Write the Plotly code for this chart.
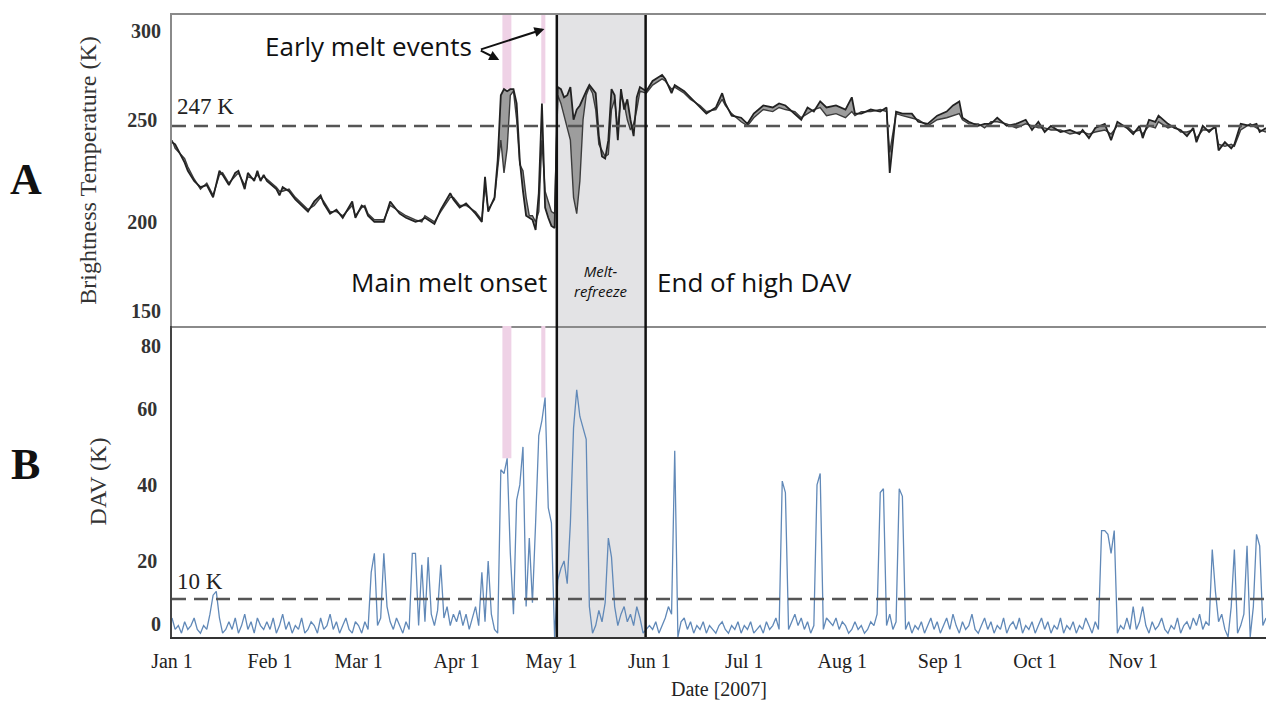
import pandas as pd
import plotly.graph_objects as go
from plotly.subplots import make_subplots

YEAR_START = "2007-01-01"

# ---- Brightness temperature (K): day offset from Jan 1, upper / lower series ----
tb_days = [
    0, 1, 4, 5, 7, 9, 11, 13, 15, 16, 18, 20, 21, 23, 24, 26, 27, 28, 29, 30,
    33, 34, 35, 37, 39, 43, 45, 47, 48, 50, 52, 54, 57, 58,
    60, 61, 62, 64, 67, 69, 72, 74, 77, 79, 80, 83, 85, 88, 89,
    91, 93, 96, 98, 99, 100, 102, 103,
    104, 105, 106, 107, 108, 109, 110, 111, 112, 113,
    114, 115, 116, 117, 118, 119, 120, 121, 122, 123,
    124, 125, 126, 127, 128, 129, 130, 131, 132, 133,
    134, 135, 136, 137, 138, 139, 140, 141, 142, 143,
    144, 145, 146, 147, 148, 150,
    152, 155, 156, 158, 159, 162, 164, 167, 169, 172,
    174, 175, 177, 180, 182, 184, 187, 190, 192, 194,
    197, 199, 201, 203, 205, 207, 210, 213, 215, 216,
    218, 221, 224, 226, 227, 229, 231, 234, 236, 239,
    242, 245, 247, 249, 250, 252, 255, 257, 259, 261,
    264, 267, 270, 272, 274, 276, 278, 281, 284, 287,
    288, 290, 292, 295, 297, 299, 302, 304, 306, 307,
    309, 311, 312, 315, 317, 319, 321, 323, 324, 326,
    328, 330, 331, 333, 335, 336, 338, 341, 343, 344,
    346,
]
tb_upper = [
    239, 238, 229, 225, 220, 217, 218, 212, 225, 223, 218, 224, 225, 216, 224, 220, 225, 220, 223, 220,
    216, 213, 217, 215, 211, 205, 210, 213, 209, 204, 206, 202, 210, 202,
    208, 207, 203, 200, 200, 210, 204, 202, 200, 201, 202, 199, 206, 214, 211,
    207, 209, 204, 200, 222, 205, 212, 230,
    262, 265, 264, 265, 265, 258, 230, 215, 203, 202,
    201, 196, 214, 258, 207, 202, 198, 197, 266, 265,
    261, 262, 266, 250, 255, 257, 261, 264, 267, 265,
    263, 242, 232, 231, 240, 265, 262, 240, 265, 255,
    260, 250, 242, 261, 266, 264,
    269, 272, 270, 263, 267, 264, 261, 256, 253, 256,
    263, 258, 252, 251, 248, 253, 257, 256, 258, 257,
    253, 250, 256, 254, 259, 256, 257, 255, 261, 253,
    253, 255, 254, 256, 224, 254, 253, 253, 249, 248,
    252, 254, 257, 259, 251, 249, 247, 248, 248, 251,
    247, 248, 250, 245, 249, 244, 247, 244, 245, 243,
    245, 241, 246, 248, 240, 249, 246, 243, 247, 241,
    250, 249, 252, 248, 246, 245, 242, 246, 239, 247,
    244, 247, 235, 239, 236, 238, 248, 247, 248, 244,
    246,
]
tb_lower = [
    240, 236, 231, 227, 221, 216, 219, 213, 223, 224, 219, 222, 224, 218, 222, 221, 223, 221, 222, 221,
    217, 215, 215, 216, 212, 206, 208, 212, 210, 205, 205, 203, 208, 203,
    207, 208, 204, 201, 201, 208, 205, 203, 201, 200, 203, 200, 205, 212, 212,
    208, 208, 205, 201, 218, 206, 211, 226,
    240, 224, 236, 262, 264, 250, 228, 225, 212, 203,
    203, 200, 205, 240, 215, 210, 205, 204, 262, 258,
    252, 245, 240, 212, 204, 220, 250, 262, 266, 263,
    255, 238, 235, 232, 233, 255, 260, 245, 262, 258,
    250, 245, 248, 255, 264, 263,
    267, 270, 269, 265, 266, 263, 260, 257, 254, 255,
    260, 257, 253, 249, 247, 251, 255, 254, 256, 255,
    254, 251, 253, 255, 256, 252, 253, 251, 254, 252,
    254, 254, 255, 254, 234, 253, 252, 251, 250, 247,
    250, 251, 252, 253, 250, 248, 248, 246, 249, 249,
    248, 246, 248, 247, 246, 246, 245, 245, 243, 244,
    244, 243, 244, 245, 243, 247, 247, 244, 245, 243,
    247, 246, 249, 246, 247, 244, 244, 245, 241, 245,
    245, 246, 238, 237, 238, 237, 245, 248, 246, 245,
    244,
]

# ---- DAV (K), daily values from Jan 1 ----
dav_jan = [5, 2, 3, 1, 4, 2, 3, 5, 2, 1, 3, 2, 6, 11, 12, 5, 1, 2, 4, 2, 5, 1, 3, 6, 2, 4, 1, 5, 3, 2, 4]
dav_feb = [2, 5, 1, 3, 6, 2, 4, 1, 3, 2, 5, 1, 2, 4, 3, 1, 5, 2, 3, 6, 2, 4, 1, 3, 5, 2, 1, 4]
dav_mar = [3, 1, 4, 2, 17, 22, 3, 5, 22, 8, 4, 2, 5, 3, 1, 4, 2, 22, 22, 3, 19, 4, 21, 6, 3, 7, 19, 5, 8, 3, 6]
dav_apr = [4, 7, 3, 6, 2, 5, 8, 3, 17, 4, 20, 6, 2, 1, 44, 43, 47, 22, 6, 36, 40, 50, 8, 26, 9, 30, 53, 57, 63, 34]
dav_may = [30, 0, 15, 18, 20, 14, 30, 55, 65, 58, 55, 52, 8, 1, 3, 7, 4, 9, 26, 21, 8, 3, 6, 8, 4, 6, 3, 8, 5, 1, 2]
dav_jun = [3, 2, 4, 1, 3, 5, 8, 6, 49, 0, 4, 5, 2, 4, 1, 3, 2, 4, 1, 3, 2, 1, 3, 4, 2, 1, 3, 2, 4, 1]
dav_jul = [3, 2, 4, 1, 2, 3, 1, 4, 2, 3, 5, 2, 41, 38, 2, 4, 6, 3, 5, 2, 4, 1, 3, 40, 43, 2, 5, 4, 3, 5, 2]
dav_aug = [4, 3, 1, 2, 4, 2, 3, 1, 2, 4, 3, 6, 38, 39, 3, 6, 2, 4, 39, 37, 2, 4, 1, 3, 2, 4, 1, 3, 5, 2, 4]
dav_sep = [1, 3, 5, 2, 6, 3, 1, 4, 2, 3, 6, 2, 1, 3, 5, 2, 4, 1, 3, 2, 5, 1, 3, 4, 2, 5, 1, 3, 2, 4]
dav_oct = [1, 3, 5, 2, 4, 1, 3, 2, 5, 1, 3, 2, 4, 1, 3, 2, 5, 3, 1, 4, 2, 28, 28, 27, 22, 28, 1, 3, 2, 5, 2]
dav_nov = [8, 2, 4, 8, 3, 1, 4, 2, 3, 5, 2, 1, 3, 2, 5, 1, 3, 4, 2, 5, 3, 6, 2, 4, 3, 23, 12, 4, 6, 2]
dav_dec = [0, 8, 23, 1, 3, 6, 24, 0, 8, 27, 24, 3, 5]

# ---- thresholds, periods, ticks ----
tb_threshold = 247
dav_threshold = 10
main_melt_onset = "2007-05-02T17:00"
end_high_dav = "2007-05-30T19:00"
early_melt_events = [("2007-04-15T12:00", "2007-04-18T08:00"),
                     ("2007-04-27T19:00", "2007-04-29T02:00")]
month_ticks = ["2007-01-01", "2007-02-01", "2007-03-01", "2007-04-01", "2007-05-01", "2007-06-01",
               "2007-07-01", "2007-08-01", "2007-09-01", "2007-10-01", "2007-11-01"]
month_labels = ["Jan 1", "Feb 1", "Mar 1", "Apr 1", "May 1", "Jun 1",
                "Jul 1", "Aug 1", "Sep 1", "Oct 1", "Nov 1"]
tb_ticks_inner = [200, 250]
tb_ticks_edge = [150, 300]
dav_ticks_inner = [20, 40, 60]
dav_ticks_edge = [0, 80]
x_range = ["2007-01-01", "2007-12-13"]
tb_range = [149, 301.3]
dav_range = [0, 81.8]

assert len(tb_days) == len(tb_upper) == len(tb_lower)
dav_values = (dav_jan + dav_feb + dav_mar + dav_apr + dav_may + dav_jun +
              dav_jul + dav_aug + dav_sep + dav_oct + dav_nov + dav_dec)

start = pd.Timestamp(YEAR_START)
tb_dates = start + pd.to_timedelta(tb_days, unit="D")
dav_dates = start + pd.to_timedelta(list(range(len(dav_values))), unit="D")
tb_s = pd.Series(tb_upper, index=tb_dates)
dav_s = pd.Series(dav_values, index=dav_dates)

SERIF = "Liberation Serif"
SANS = "Open Sans"

fig = make_subplots(rows=2, cols=1, shared_xaxes=True, vertical_spacing=0)

fig.add_trace(go.Scatter(x=tb_dates, y=tb_lower, mode="lines",
                         line=dict(color="#3c3c3c", width=1.4), showlegend=False), row=1, col=1)
fig.add_trace(go.Scatter(x=tb_dates, y=tb_upper, mode="lines", fill="tonexty",
                         fillcolor="#9d9d9d", line=dict(color="#222222", width=1.8),
                         showlegend=False), row=1, col=1)
fig.add_trace(go.Scatter(x=dav_dates, y=dav_values, mode="lines",
                         line=dict(color="#6189b8", width=1.3), showlegend=False), row=2, col=1)

shapes = []
shapes.append(dict(type="rect", xref="x", yref="paper", x0=main_melt_onset, x1=end_high_dav,
                   y0=0, y1=1, fillcolor="#e3e3e5", line=dict(width=0), layer="below"))
for a, b in early_melt_events:
    ta = tb_s[(tb_s.index >= a) & (tb_s.index <= b)].max()
    da = dav_s[(dav_s.index >= a) & (dav_s.index <= b)].max()
    shapes.append(dict(type="rect", xref="x", yref="y", x0=a, x1=b, y0=ta, y1=tb_range[1],
                       fillcolor="#efd2e6", line=dict(width=0), layer="below"))
    shapes.append(dict(type="rect", xref="x2", yref="y2", x0=a, x1=b, y0=da, y1=dav_range[1],
                       fillcolor="#efd2e6", line=dict(width=0), layer="below"))
shapes.append(dict(type="line", xref="paper", yref="y", x0=0, x1=1, y0=tb_threshold, y1=tb_threshold,
                   line=dict(color="#555555", width=2.5, dash="14px,8px"), layer="above"))
shapes.append(dict(type="line", xref="paper", yref="y2", x0=0, x1=1, y0=dav_threshold, y1=dav_threshold,
                   line=dict(color="#555555", width=2.5, dash="14px,8px"), layer="above"))
for d in (main_melt_onset, end_high_dav):
    shapes.append(dict(type="line", xref="x", yref="paper", x0=d, x1=d, y0=0, y1=1,
                       line=dict(color="#111111", width=2.5), layer="above"))

mid_melt = pd.Timestamp(main_melt_onset) + (pd.Timestamp(end_high_dav) - pd.Timestamp(main_melt_onset)) / 2

TICKFONT = dict(family=SERIF, size=20, color="#333", weight="bold")

annotations = [
    dict(text="<b>A</b>", xref="paper", yref="paper", x=-0.1335, y=0.735, xanchor="center",
         yanchor="middle", showarrow=False, font=dict(family=SERIF, size=44, color="#111")),
    dict(text="<b>B</b>", xref="paper", yref="paper", x=-0.1335, y=0.277, xanchor="center",
         yanchor="middle", showarrow=False, font=dict(family=SERIF, size=44, color="#111")),
    dict(text="247 K", xref="paper", yref="y", x=0.003, y=256.5, xanchor="left", showarrow=False,
         font=dict(family=SERIF, size=23, color="#222")),
    dict(text="10 K", xref="paper", yref="y2", x=0.003, y=14.5, xanchor="left", showarrow=False,
         font=dict(family=SERIF, size=23, color="#222")),
    dict(text="Early melt events", xref="x", yref="y", x="2007-03-04", y=286.2, showarrow=False,
         font=dict(family=SANS, size=26, color="#111")),
    dict(text="", xref="x", yref="y", x="2007-04-14T12:00", y=279.3, axref="pixel", ayref="pixel",
         ax=-20, ay=-10, showarrow=True, arrowhead=2, arrowsize=1, arrowwidth=2, arrowcolor="#111"),
    dict(text="", xref="x", yref="y", x="2007-04-28T19:00", y=294.5, axref="pixel", ayref="pixel",
         ax=-65, ay=21, showarrow=True, arrowhead=2, arrowsize=1, arrowwidth=2, arrowcolor="#111"),
    dict(text="Main melt onset", xref="x", yref="y", x=main_melt_onset, y=170.5, xanchor="right",
         xshift=-8, showarrow=False, font=dict(family=SANS, size=26, color="#111")),
    dict(text="End of high DAV", xref="x", yref="y", x=end_high_dav, y=170.5, xanchor="left",
         xshift=9, showarrow=False, font=dict(family=SANS, size=26, color="#111")),
    dict(text="<i>Melt-</i><br><i>refreeze</i>", xref="x", yref="y", x=mid_melt, y=171,
         showarrow=False, font=dict(family=SANS, size=15, color="#111")),
]
# edge tick labels sit inside their panel, as in the original figure
for v in tb_ticks_edge:
    annotations.append(dict(text=str(v), xref="paper", yref="y", x=0, y=v, xanchor="right",
                            yanchor="top" if v == max(tb_ticks_edge) else "bottom", xshift=-9,
                            showarrow=False, font=TICKFONT))
for v in dav_ticks_edge:
    annotations.append(dict(text=str(v), xref="paper", yref="y2", x=0, y=v, xanchor="right",
                            yanchor="top" if v == max(dav_ticks_edge) else "bottom", xshift=-9,
                            showarrow=False, font=TICKFONT))

fig.update_layout(
    width=1266, height=709,
    margin=dict(l=172, r=0, t=15, b=72),
    paper_bgcolor="white", plot_bgcolor="white",
    shapes=shapes, annotations=annotations,
    font=dict(family=SERIF, color="#222"),
    showlegend=False,
)

fig.update_xaxes(type="date", range=x_range, showgrid=False, zeroline=False)
fig.update_xaxes(row=1, col=1, showline=True, linecolor="#8a8a8a", linewidth=1.5, mirror=True,
                 showticklabels=False, ticks="")
fig.update_xaxes(row=2, col=1, showline=True, linecolor="#333333", linewidth=2,
                 tickmode="array", tickvals=month_ticks, ticktext=month_labels, ticks="",
                 tickfont=dict(family=SERIF, size=20, color="#222"), ticklabelstandoff=5,
                 title=dict(text="Date [2007]", font=dict(family=SERIF, size=20, color="#222"), standoff=10))

fig.update_yaxes(row=1, col=1, range=tb_range, tickvals=tb_ticks_inner, showgrid=False, zeroline=False,
                 showline=True, linecolor="#8a8a8a", linewidth=1.5, ticks="", ticklabelstandoff=9,
                 tickfont=TICKFONT,
                 title=dict(text="Brightness Temperature (K)", font=dict(family=SERIF, size=24, color="#333"),
                            standoff=24))
fig.update_yaxes(row=2, col=1, range=dav_range, tickvals=dav_ticks_inner, showgrid=False, zeroline=False,
                 showline=True, linecolor="#444444", linewidth=1.5, ticks="", ticklabelstandoff=9,
                 tickfont=TICKFONT,
                 title=dict(text="DAV (K)", font=dict(family=SERIF, size=24, color="#333"), standoff=24))

fig.write_html("out.html")
